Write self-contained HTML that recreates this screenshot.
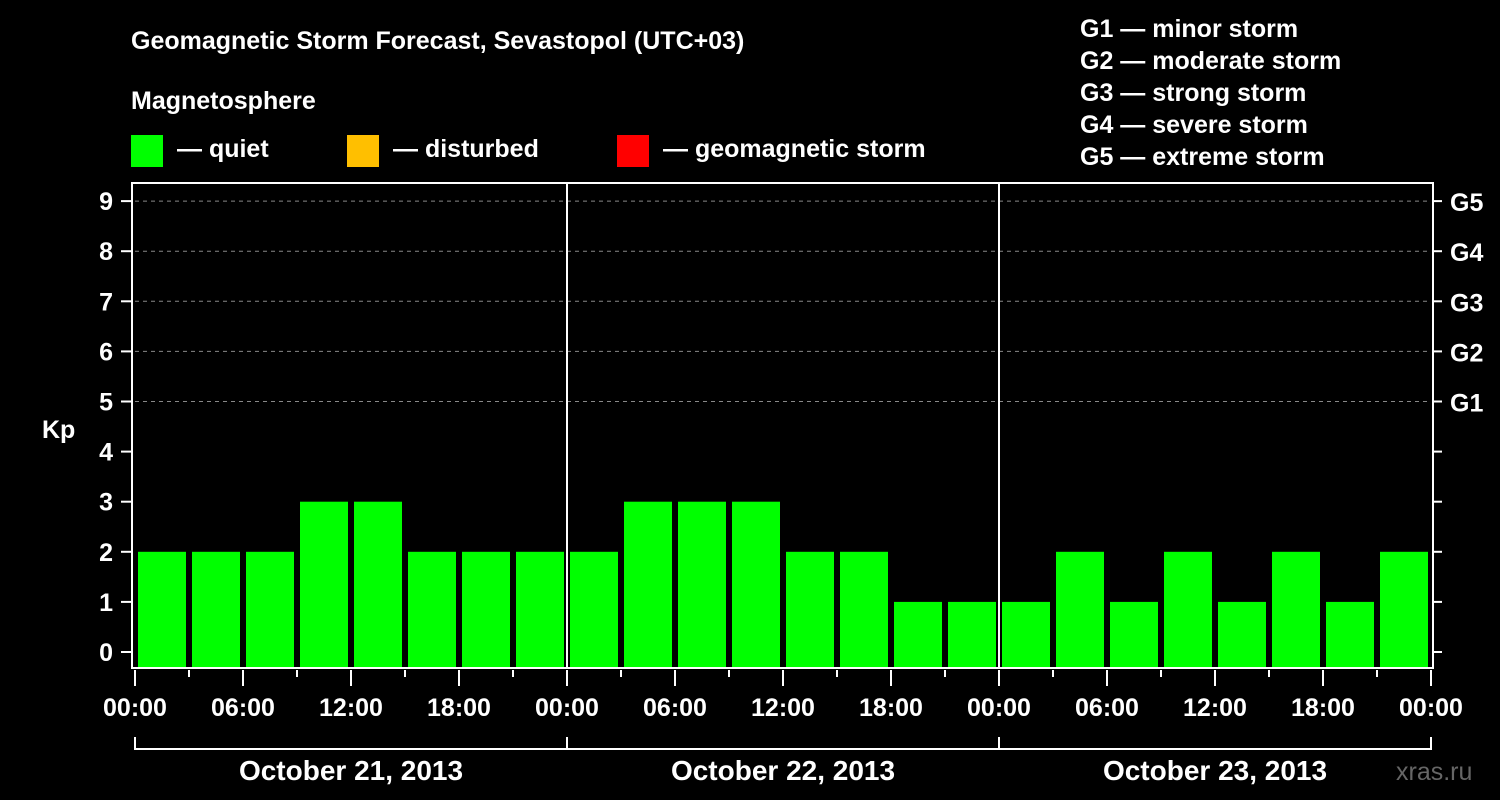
<!DOCTYPE html>
<html><head><meta charset="utf-8"><style>
body{margin:0;background:#000;width:1500px;height:800px;overflow:hidden}
svg{display:block;font-family:"Liberation Sans",sans-serif;font-weight:bold}
</style></head><body>
<svg id="c" width="1500" height="800">
<text x="131" y="49" fill="#fff" font-size="25">Geomagnetic Storm Forecast, Sevastopol (UTC+03)</text>
<text x="131" y="109" fill="#fff" font-size="25">Magnetosphere</text>
<g>
<rect x="131" y="135" width="32" height="32" fill="#00ff00"/>
<text x="177" y="157" fill="#fff" font-size="25">— quiet</text>
<rect x="347" y="135" width="32" height="32" fill="#ffbf00"/>
<text x="393" y="157" fill="#fff" font-size="25">— disturbed</text>
<rect x="617" y="135" width="32" height="32" fill="#ff0000"/>
<text x="663" y="157" fill="#fff" font-size="25">— geomagnetic storm</text>
</g>
<g fill="#fff" font-size="25">
<text x="1080" y="37">G1 — minor storm</text>
<text x="1080" y="69">G2 — moderate storm</text>
<text x="1080" y="101">G3 — strong storm</text>
<text x="1080" y="133">G4 — severe storm</text>
<text x="1080" y="165">G5 — extreme storm</text>
</g>
<text x="42" y="438" fill="#fff" font-size="25">Kp</text>
<text x="1396" y="780" fill="#666" font-size="25" font-weight="normal">xras.ru</text>
<g id="plot"></g>
</svg>
<script>
const kpValues=[2,2,2,3,3,2,2,2, 2,3,3,3,2,2,1,1, 1,2,1,2,1,2,1,2];
const dayLabels=["October 21, 2013","October 22, 2013","October 23, 2013"];
const hourLabels=["00:00","06:00","12:00","18:00"];
const yTicks=[0,1,2,3,4,5,6,7,8,9];
const gLabels=["G1","G2","G3","G4","G5"];
const ns="http://www.w3.org/2000/svg";
const g=document.getElementById('plot');
const X0=135,X1=1431,TOP=183,BOT=667;
const x=i=>X0+(X1-X0)*i/kpValues.length;
const y=k=>652-50.1*k;
function mk(t,a,txt){const e=document.createElementNS(ns,t);for(const k in a)e.setAttribute(k,a[k]);if(txt!=null)e.textContent=txt;g.appendChild(e);return e;}
yTicks.forEach(k=>{
 if(k>=5){const l=mk('line',{x1:X0,x2:X1,y1:y(k),y2:y(k),stroke:'#888','stroke-dasharray':'4,4','stroke-width':1});
 
 }
 const t=mk('line',{x1:121,x2:131,y1:y(k),y2:y(k),stroke:'#fff','stroke-width':2});
 
 
 const r=mk('line',{x1:1434,x2:1442,y1:y(k),y2:y(k),stroke:'#fff','stroke-width':2});
 
 
 const lb=mk('text',{x:113,y:y(k)+9,fill:'#fff','font-size':25,'text-anchor':'end'},k);
 
 
});
gLabels.forEach((s,i)=>{const t=mk('text',{x:1450,y:y(5+i)+10,fill:'#fff','font-size':25},s);
 
 });
kpValues.forEach((v,i)=>{
 const col=v>=5?'#ff0000':v>=4?'#ffbf00':'#00ff00';
 const b=mk('rect',{x:x(i)+3,y:y(v),width:(X1-X0)/kpValues.length-6,height:BOT-y(v),fill:col});
 
 
});
mk('rect',{x:132,y:TOP,width:1301,height:BOT-TOP+1,fill:'none',stroke:'#fff','stroke-width':2});
for(let d=1;d<dayLabels.length;d++){const l=mk('line',{x1:x(d*8),x2:x(d*8),y1:TOP,y2:BOT,stroke:'#fff','stroke-width':2});
 
 }
for(let i=0;i<=kpValues.length;i++){
 const major=i%2==0;
 const t=mk('line',{x1:x(i),x2:x(i),y1:670,y2:major?686:677,stroke:'#fff','stroke-width':2});
 
 
 if(major){const lb=mk('text',{x:x(i),y:716,fill:'#fff','font-size':25,'text-anchor':'middle'},hourLabels[(i/2)%4]);
 
 }
}
mk('line',{x1:X0,x2:X1,y1:749,y2:749,stroke:'#fff','stroke-width':2});
dayLabels.forEach((s,d)=>{
 const t=mk('line',{x1:x(d*8),x2:x(d*8),y1:737,y2:750,stroke:'#fff','stroke-width':2});
 
 
 const lb=mk('text',{x:(x(d*8)+x(d*8+8))/2,y:780,fill:'#fff','font-size':28,'text-anchor':'middle'},s);
 
 
});
mk('line',{x1:X1,x2:X1,y1:737,y2:750,stroke:'#fff','stroke-width':2});
</script>
</body></html>
